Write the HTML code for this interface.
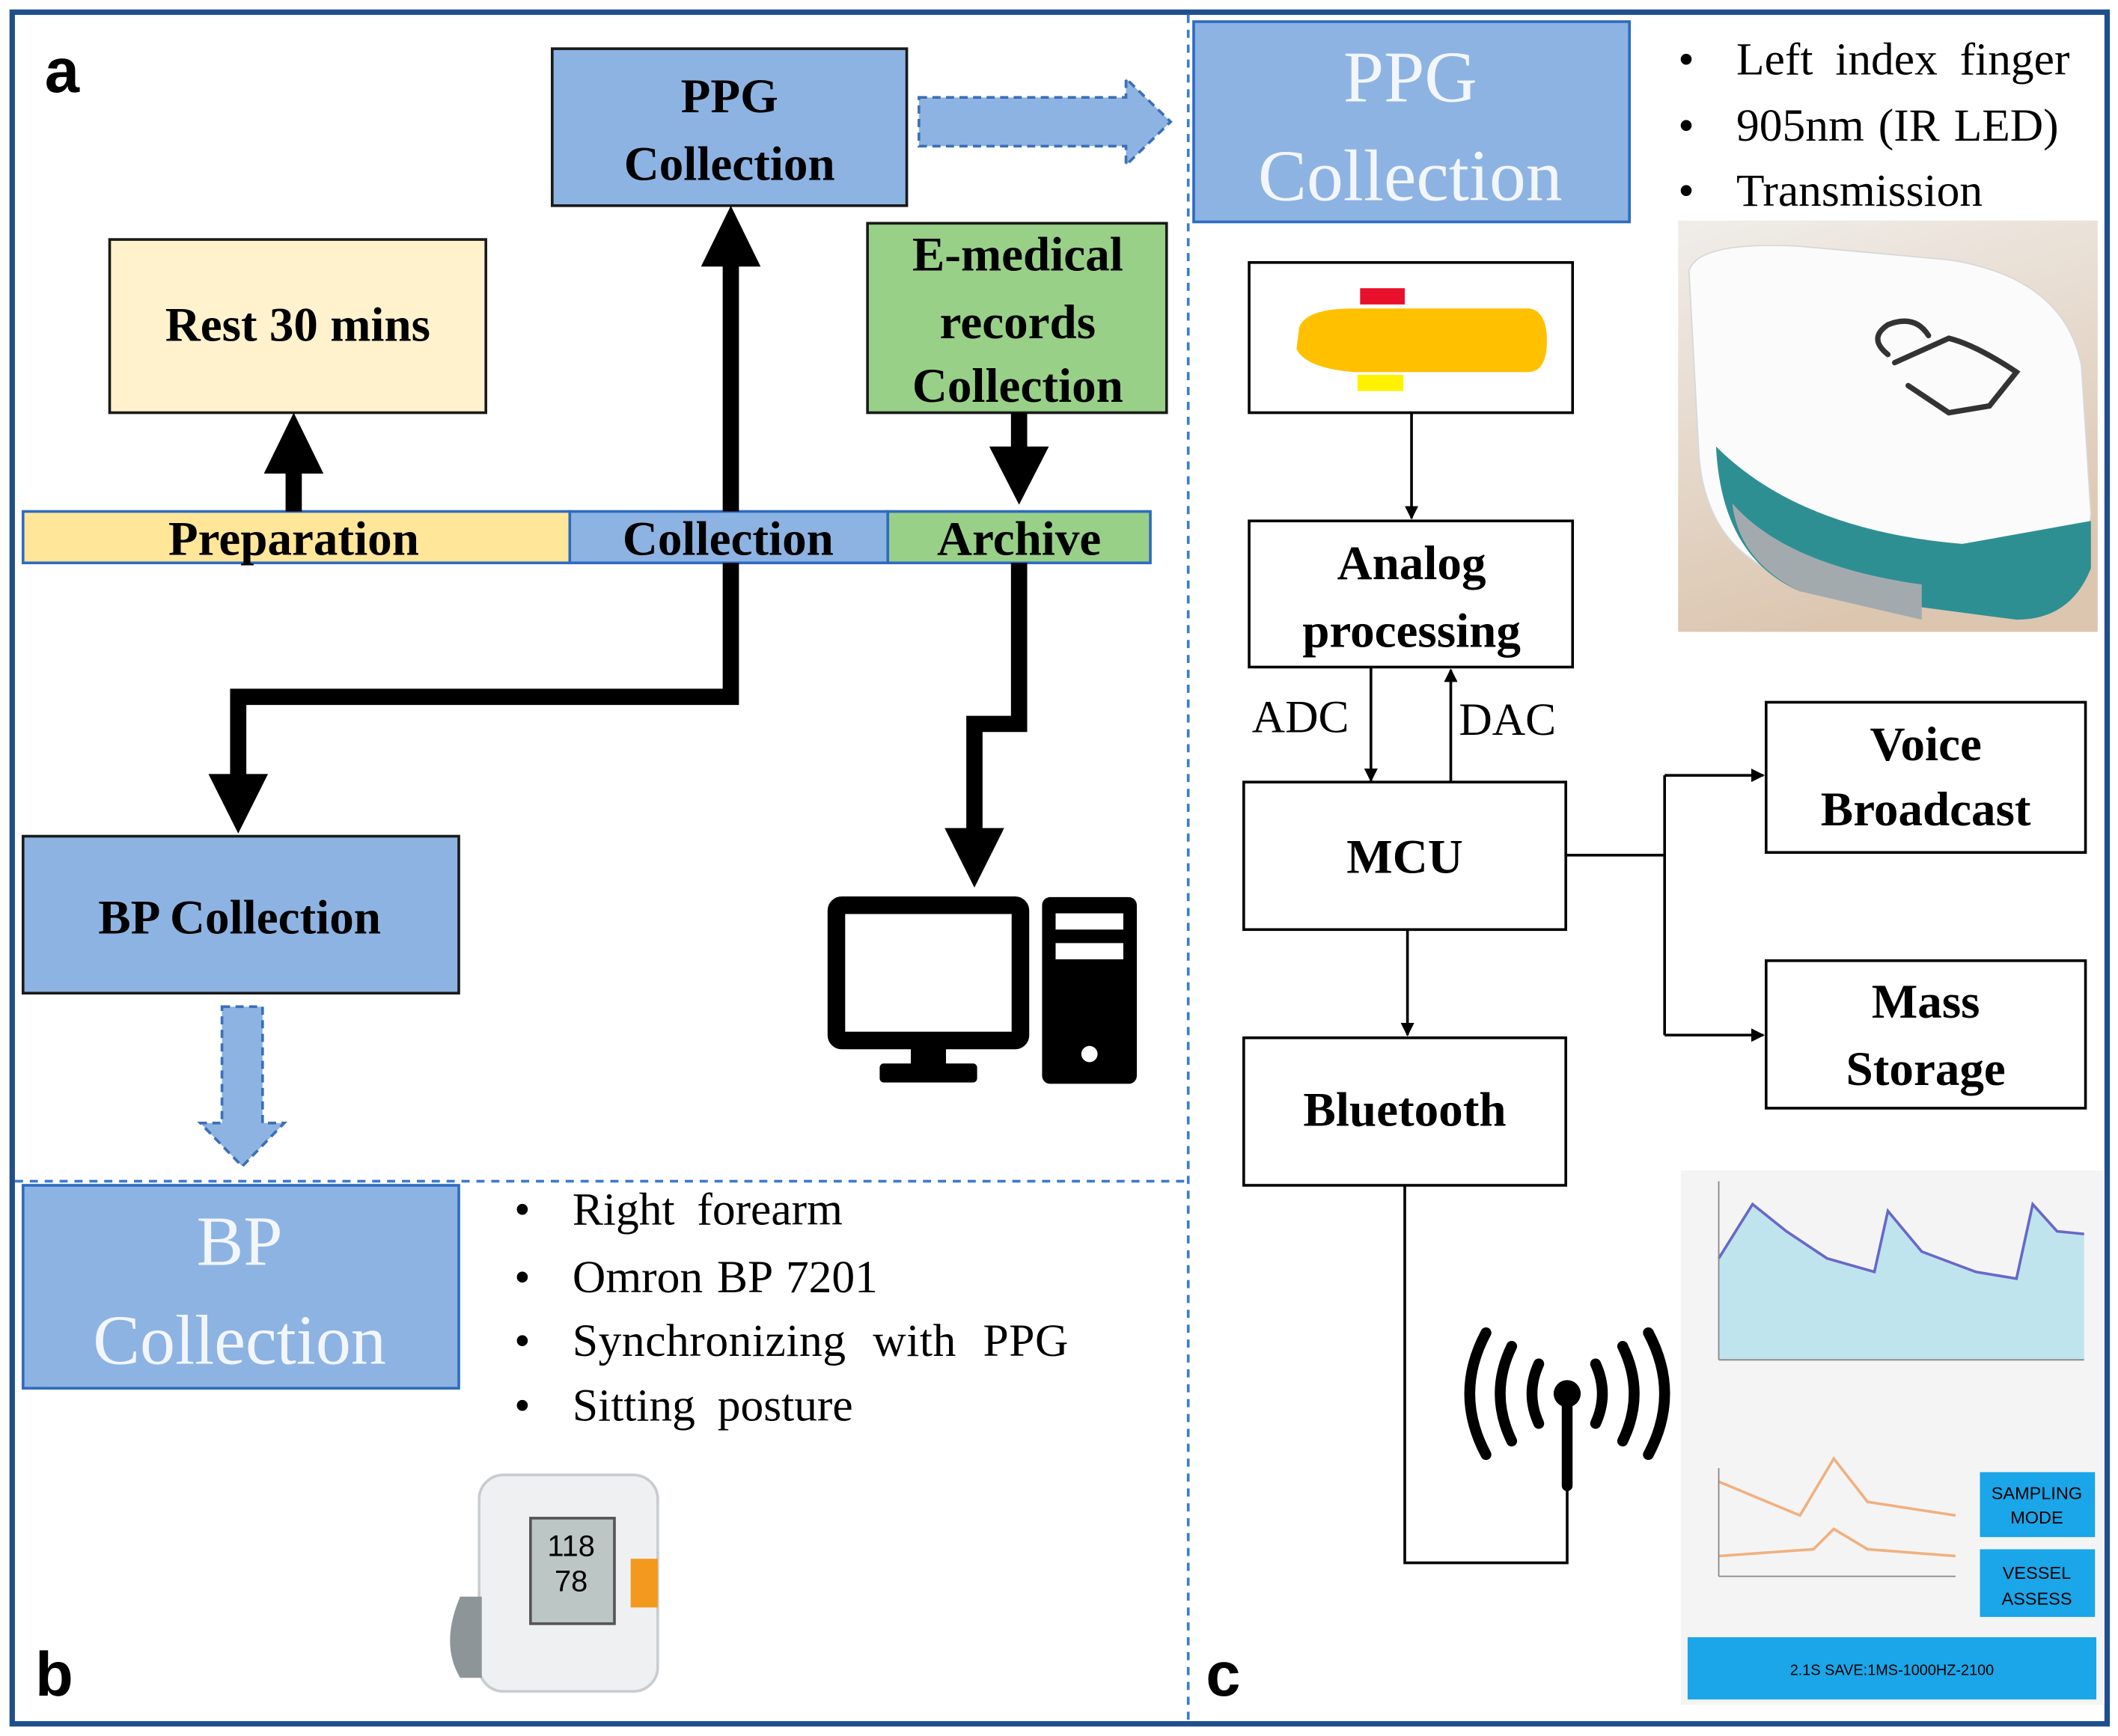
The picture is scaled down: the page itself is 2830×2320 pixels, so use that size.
<!DOCTYPE html>
<html><head><meta charset="utf-8"><style>
html,body{margin:0;padding:0;background:#fff}
svg{display:block}
text{font-family:"Liberation Serif",serif}
.b{font-weight:bold;font-size:36px;fill:#000}
.bl{font-size:34px;fill:#000}
</style></head><body>
<svg width="2830" height="2320" viewBox="0 0 1565 1283" xmlns="http://www.w3.org/2000/svg">
<defs>
<marker id="ah" markerWidth="10" markerHeight="10" refX="9" refY="5" orient="auto" markerUnits="userSpaceOnUse"><path d="M0,0 L10,5 L0,10 z" fill="#000"/></marker>
<linearGradient id="wood" x1="0" y1="0" x2="0.3" y2="1"><stop offset="0" stop-color="#f0ede9"/><stop offset="1" stop-color="#dcc6b0"/></linearGradient>
</defs>
<rect x="0" y="0" width="1565" height="1283" fill="#fff"/>
<rect x="9" y="9" width="1548" height="1265" fill="none" stroke="#1f4e8c" stroke-width="4"/>
<line x1="878" y1="11" x2="878" y2="1272" stroke="#3b7bd0" stroke-width="2" stroke-dasharray="6,5"/>
<line x1="11" y1="873" x2="878" y2="873" stroke="#3b7bd0" stroke-width="2" stroke-dasharray="6,5"/>
<text x="33" y="68" font-weight="bold" font-size="46" style="font-family:'Liberation Sans',sans-serif">a</text>
<text x="26" y="1253" font-weight="bold" font-size="46" style="font-family:'Liberation Sans',sans-serif">b</text>
<text x="891" y="1253" font-weight="bold" font-size="46" style="font-family:'Liberation Sans',sans-serif">c</text>

<rect x="408" y="36" width="262" height="116" fill="#8db3e2" stroke="#1a1a1a" stroke-width="2"/>
<text class="b" x="539" y="83" text-anchor="middle">PPG</text>
<text class="b" x="539" y="133" text-anchor="middle">Collection</text>
<path d="M679,72 H832 V58 L865,90 L832,122 V108 H679 Z" fill="#8db3e2" stroke="#3b6fb6" stroke-width="2" stroke-dasharray="6,4"/>
<rect x="81" y="177" width="278" height="128" fill="#fff2cc" stroke="#1a1a1a" stroke-width="2"/>
<text class="b" x="220" y="252" text-anchor="middle">Rest 30 mins</text>
<rect x="641" y="165" width="221" height="140" fill="#98d088" stroke="#1a1a1a" stroke-width="2"/>
<text class="b" x="752" y="200" text-anchor="middle">E-medical</text>
<text class="b" x="752" y="250" text-anchor="middle">records</text>
<text class="b" x="752" y="297" text-anchor="middle">Collection</text>
<rect x="17" y="378" width="404" height="38" fill="#ffe699" stroke="#2e6bc0" stroke-width="2"/>
<rect x="421" y="378" width="235" height="38" fill="#8db3e2" stroke="#2e6bc0" stroke-width="2"/>
<rect x="656" y="378" width="194" height="38" fill="#98d088" stroke="#2e6bc0" stroke-width="2"/>
<text class="b" x="217" y="410" text-anchor="middle">Preparation</text>
<text class="b" x="538" y="410" text-anchor="middle">Collection</text>
<text class="b" x="753" y="410" text-anchor="middle">Archive</text>
<g fill="#000">
<rect x="211" y="345" width="12" height="33"/><path d="M195,350 L217,305 L239,350 Z"/>
<rect x="534" y="192" width="12" height="186"/><path d="M518,197 L540,152 L562,197 Z"/>
<rect x="747" y="305" width="12" height="30"/><path d="M731,330 L753,373 L775,330 Z"/>
<path d="M534,416 H546 V521 H182 V575 H170 V509 H534 Z"/><path d="M154,572 L176,616 L198,572 Z"/>
<path d="M747,416 H759 V541 H726 V615 H714 V529 H747 Z"/><path d="M698,612 L720,656 L742,612 Z"/>
</g>
<rect x="17" y="618" width="322" height="116" fill="#8db3e2" stroke="#1a1a1a" stroke-width="2"/>
<text class="b" x="177" y="690" text-anchor="middle">BP Collection</text>
<path d="M164,744 H194 V830 H210 L179,862 L148,830 H164 Z" fill="#8db3e2" stroke="#3b6fb6" stroke-width="2" stroke-dasharray="6,4"/>
<rect x="618" y="669" width="136" height="100" fill="none" stroke="#000" stroke-width="13" rx="4"/>
<rect x="673" y="775" width="26" height="14" fill="#000"/>
<rect x="650" y="786" width="72" height="14" rx="3" fill="#000"/>
<rect x="770" y="663" width="70" height="138" rx="6" fill="#000"/>
<rect x="780" y="675" width="50" height="12" fill="#fff"/>
<rect x="780" y="697" width="50" height="12" fill="#fff"/>
<circle cx="805" cy="779" r="6" fill="#fff"/>

<rect x="17" y="876" width="322" height="150" fill="#8db3e2" stroke="#2e6bc0" stroke-width="2"/>
<text x="177" y="935" text-anchor="middle" font-size="52" fill="#f2f6fc">BP</text>
<text x="177" y="1008" text-anchor="middle" font-size="52" fill="#f2f6fc">Collection</text>
<text x="380" y="905" class="bl">•</text><text x="423" y="905" class="bl" word-spacing="8">Right forearm</text>
<text x="380" y="955" class="bl">•</text><text x="423" y="955" class="bl" word-spacing="2">Omron BP 7201</text>
<text x="380" y="1002" class="bl">•</text><text x="423" y="1002" class="bl" word-spacing="11" letter-spacing="0.3">Synchronizing with PPG</text>
<text x="380" y="1050" class="bl">•</text><text x="423" y="1050" class="bl" word-spacing="8">Sitting posture</text>
<rect x="354" y="1090" width="132" height="160" rx="18" fill="#eef0f2" stroke="#c8ccd0" stroke-width="2"/>
<rect x="392" y="1122" width="62" height="78" fill="#bcc6c4" stroke="#555" stroke-width="2"/>
<text x="422" y="1150" text-anchor="middle" font-size="22" style="font-family:'Liberation Sans',sans-serif">118</text>
<text x="422" y="1176" text-anchor="middle" font-size="22" style="font-family:'Liberation Sans',sans-serif">78</text>
<rect x="466" y="1152" width="20" height="36" fill="#f39a1e"/>
<path d="M340,1180 Q325,1215 340,1240 L356,1240 L356,1180 Z" fill="#8e9599"/>

<rect x="882" y="16" width="322" height="148" fill="#8db3e2" stroke="#2e6bc0" stroke-width="2"/>
<text x="1042" y="75" text-anchor="middle" font-size="54" fill="#f2f6fc">PPG</text>
<text x="1042" y="148" text-anchor="middle" font-size="54" fill="#f2f6fc">Collection</text>
<text x="1240" y="55" class="bl">•</text><text x="1283" y="55" class="bl" word-spacing="8">Left index finger</text>
<text x="1240" y="104" class="bl">•</text><text x="1283" y="104" class="bl" word-spacing="2">905nm (IR LED)</text>
<text x="1240" y="152" class="bl">•</text><text x="1283" y="152" class="bl">Transmission</text>
<rect x="1240" y="163" width="310" height="304" fill="url(#wood)"/>
<path d="M1248,200 Q1255,178 1330,182 L1440,192 Q1525,205 1538,270 L1545,380 Q1540,440 1500,450 L1330,430 Q1258,410 1255,330 Z" fill="#fbfbfb" stroke="#d8d8d8"/>
<path d="M1268,330 Q1330,392 1450,402 L1545,385 L1545,420 Q1530,458 1490,458 L1330,437 Q1272,412 1268,330 Z" fill="#2e8f93"/>
<path d="M1280,372 Q1320,418 1420,432 L1420,458 L1330,437 Q1285,415 1280,372 Z" fill="#a3aaae"/>
<g fill="none" stroke="#333" stroke-width="4" stroke-linecap="round">
<path d="M1395,262 Q1380,250 1395,240 Q1415,232 1425,248"/>
<path d="M1400,268 L1440,250 Q1460,255 1490,275 L1470,300 L1440,305 L1410,285"/>
</g>
<rect x="923" y="194" width="239" height="111" fill="#fff" stroke="#000" stroke-width="2"/>
<path d="M960,242 Q965,228 1000,228 H1130 Q1143,230 1143,252 Q1143,274 1130,275 H1000 Q965,272 958,258 Z" fill="#ffc000"/>
<rect x="1005" y="213" width="33" height="12" fill="#e8102a"/>
<rect x="1003" y="277" width="34" height="12" fill="#fff200"/>
<line x1="1043" y1="305" x2="1043" y2="383" stroke="#000" stroke-width="2" marker-end="url(#ah)"/>
<rect x="923" y="385" width="239" height="108" fill="#fff" stroke="#000" stroke-width="2"/>
<text class="b" x="1043" y="428" text-anchor="middle">Analog</text>
<text class="b" x="1043" y="478" text-anchor="middle">processing</text>
<line x1="1013" y1="493" x2="1013" y2="577" stroke="#000" stroke-width="2" marker-end="url(#ah)"/>
<line x1="1072" y1="578" x2="1072" y2="495" stroke="#000" stroke-width="2" marker-end="url(#ah)"/>
<text x="925" y="541" class="bl">ADC</text>
<text x="1078" y="543" class="bl">DAC</text>
<rect x="919" y="578" width="238" height="109" fill="#fff" stroke="#000" stroke-width="2"/>
<text class="b" x="1038" y="645" text-anchor="middle">MCU</text>
<path d="M1157,632 H1230 M1230,573 V765" stroke="#000" stroke-width="2" fill="none"/>
<line x1="1230" y1="573" x2="1303" y2="573" stroke="#000" stroke-width="2" marker-end="url(#ah)"/>
<line x1="1230" y1="765" x2="1303" y2="765" stroke="#000" stroke-width="2" marker-end="url(#ah)"/>
<rect x="1305" y="519" width="236" height="111" fill="#fff" stroke="#000" stroke-width="2"/>
<text class="b" x="1423" y="562" text-anchor="middle">Voice</text>
<text class="b" x="1423" y="610" text-anchor="middle">Broadcast</text>
<rect x="1305" y="710" width="236" height="109" fill="#fff" stroke="#000" stroke-width="2"/>
<text class="b" x="1423" y="752" text-anchor="middle">Mass</text>
<text class="b" x="1423" y="802" text-anchor="middle">Storage</text>
<line x1="1040" y1="687" x2="1040" y2="765" stroke="#000" stroke-width="2" marker-end="url(#ah)"/>
<rect x="919" y="767" width="238" height="109" fill="#fff" stroke="#000" stroke-width="2"/>
<text class="b" x="1038" y="832" text-anchor="middle">Bluetooth</text>
<path d="M1038,876 V1155 H1158 V1095" stroke="#000" stroke-width="2" fill="none"/>
<g stroke="#000" stroke-width="8" fill="none" stroke-linecap="round">
<line x1="1158" y1="1030" x2="1158" y2="1098"/>
<path d="M1137,1008 Q1127,1030 1137,1052"/><path d="M1179,1008 Q1189,1030 1179,1052"/>
<path d="M1117,995 Q1100,1030 1117,1065"/><path d="M1199,995 Q1216,1030 1199,1065"/>
<path d="M1098,985 Q1074,1030 1098,1075"/><path d="M1218,985 Q1242,1030 1218,1075"/>
</g>
<circle cx="1158" cy="1030" r="10" fill="#000"/>
<rect x="1242" y="865" width="313" height="395" fill="#f4f4f4"/>
<path d="M1270,1005 V930 L1295,890 L1320,910 L1350,930 L1385,940 L1395,895 L1420,925 L1460,940 L1490,945 L1502,890 L1520,910 L1540,912 V1005 Z" fill="#bfe4ee"/>
<path d="M1270,930 L1295,890 L1320,910 L1350,930 L1385,940 L1395,895 L1420,925 L1460,940 L1490,945 L1502,890 L1520,910 L1540,912" fill="none" stroke="#6868c8" stroke-width="2"/>
<line x1="1270" y1="873" x2="1270" y2="1005" stroke="#888"/><line x1="1270" y1="1005" x2="1540" y2="1005" stroke="#888"/>
<path d="M1270,1095 L1330,1120 L1355,1078 L1380,1110 L1445,1120 M1270,1150 L1340,1145 L1355,1130 L1380,1145 L1445,1150" fill="none" stroke="#f0b080" stroke-width="2"/>
<line x1="1270" y1="1085" x2="1270" y2="1165" stroke="#888"/><line x1="1270" y1="1165" x2="1445" y2="1165" stroke="#888"/>
<rect x="1463" y="1088" width="85" height="48" fill="#1aa6e8"/>
<text x="1505" y="1108" text-anchor="middle" font-size="13" fill="#000" style="font-family:'Liberation Sans',sans-serif">SAMPLING</text>
<text x="1505" y="1126" text-anchor="middle" font-size="13" fill="#000" style="font-family:'Liberation Sans',sans-serif">MODE</text>
<rect x="1463" y="1145" width="85" height="50" fill="#1aa6e8"/>
<text x="1505" y="1167" text-anchor="middle" font-size="13" fill="#000" style="font-family:'Liberation Sans',sans-serif">VESSEL</text>
<text x="1505" y="1186" text-anchor="middle" font-size="13" fill="#000" style="font-family:'Liberation Sans',sans-serif">ASSESS</text>
<rect x="1247" y="1210" width="302" height="46" fill="#1aa6e8"/>
<text x="1398" y="1238" text-anchor="middle" font-size="11" fill="#000" style="font-family:'Liberation Sans',sans-serif">2.1S SAVE:1MS-1000HZ-2100</text>
</svg>
</body></html>
